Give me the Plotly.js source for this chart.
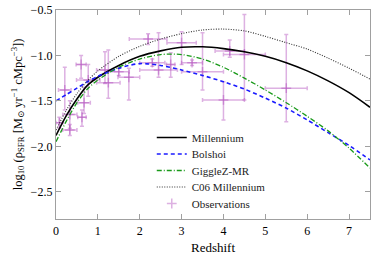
<!DOCTYPE html>
<html><head><meta charset="utf-8">
<script src="https://cdn.plot.ly/plotly-3.0.1.min.js"></script>
<style>html,body{margin:0;padding:0;background:#fff}#c{width:374px;height:255px}</style>
</head><body><div id="c"></div>
<script>
// Model curves
const z = [0, 0.25, 0.5, 0.75, 1, 1.5, 2, 2.5, 3, 3.5, 4, 4.5, 5, 5.5, 6, 6.5, 7, 7.5];
const millennium = [-1.88, -1.66, -1.48, -1.33, -1.24, -1.11, -1.01, -0.95, -0.91, -0.905, -0.925, -0.96, -1.01, -1.08, -1.17, -1.28, -1.41, -1.57];
const bolshoi = [-1.50, -1.43, -1.36, -1.29, -1.23, -1.14, -1.09, -1.11, -1.16, -1.22, -1.29, -1.37, -1.47, -1.58, -1.71, -1.85, -1.99, -2.15];
const gigglez = [-1.95, -1.72, -1.52, -1.37, -1.27, -1.13, -1.04, -0.99, -0.99, -1.04, -1.13, -1.25, -1.38, -1.52, -1.67, -1.83, -2.02, -2.24];
const c06 = [-1.82, -1.60, -1.42, -1.28, -1.17, -1.01, -0.90, -0.82, -0.76, -0.72, -0.71, -0.73, -0.79, -0.86, -0.93, -1.03, -1.14, -1.26];

// Observations
const obsZ     = [0.33, 0.08, 0.62, 0.21, 0.60, 0.77, 0.67, 0.33, 1.25, 1.17, 1.74, 1.50, 2.20, 2.45, 3.00, 3.50, 4.00, 4.15, 3.25, 4.50, 5.50, 2.30, 2.74];
const obsY     = [-1.82, -1.74, -1.68, -1.38, -1.10, -1.27, -1.52, -1.65, -1.30, -1.16, -1.24, -1.18, -0.82, -1.16, -0.86, -1.18, -1.49, -0.95, -1.08, -0.99, -1.36, -1.08, -1.10];
const obsZerr  = [0.17, 0.08, 0.10, 0.15, 0.12, 0.28, 0.15, 0.17, 0.28, 0.20, 0.26, 0.25, 0.45, 0.45, 0.35, 0.50, 0.50, 0.35, 0.25, 0.50, 0.50, 0.30, 0.10];
const obsYplus = [0.06, 0.06, 0.08, 0.25, 0.10, 0.17, 0.17, 0.15, 0.36, 0.20, 0.10, 0.04, 0.06, 0.41, 0.12, 0.43, 0.20, 0.12, 0.03, 0.44, 0.59, 0.04, 0.13];
const obsYminus= [0.06, 0.06, 0.10, 0.22, 0.15, 0.18, 0.12, 0.15, 0.17, 0.15, 0.25, 0.04, 0.06, 0.08, 0.24, 0.20, 0.22, 0.07, 0.03, 0.50, 0.37, 0.04, 0.14];

const names = ["Millennium", "Bolshoi", "GiggleZ-MR", "C06 Millennium", "Observations"];
const obsColor = "rgba(175,70,185,0.42)";
const serif = "Liberation Serif, DejaVu Serif, serif";

const traces = [
  {x: obsZ, y: obsY, type: "scatter", mode: "markers", name: names[4], legend: "legend5",
   marker: {symbol: "cross-thin-open", size: 7, color: obsColor, line: {color: obsColor, width: 1.5}},
   error_x: {type: "data", array: obsZerr, color: obsColor, thickness: 1.5, width: 2},
   error_y: {type: "data", symmetric: false, array: obsYplus, arrayminus: obsYminus, color: obsColor, thickness: 1.5, width: 2}},
  {x: z, y: millennium, name: names[0], legend: "legend", mode: "lines", line: {color: "black", width: 1.6, shape: "spline", smoothing: 0.8}},
  {x: z, y: bolshoi, name: names[1], legend: "legend2", mode: "lines", line: {color: "#1a1aff", width: 1.6, dash: "4px,3px", shape: "spline", smoothing: 0.8}},
  {x: z, y: gigglez, name: names[2], legend: "legend3", mode: "lines", line: {color: "#1a9a1a", width: 1.3, dash: "5px,2px,1px,2px", shape: "spline", smoothing: 0.8}},
  {x: z, y: c06, name: names[3], legend: "legend4", mode: "lines", line: {color: "#333", width: 1.1, dash: "1px,1.5px", shape: "spline", smoothing: 0.8}}
];

const axisCommon = {
  showline: true, linecolor: "#a0a0a0", linewidth: 1.2, mirror: "allticks",
  ticks: "inside", ticklen: 5, tickcolor: "#a0a0a0", tickwidth: 1,
  showgrid: false, zeroline: false,
  tickfont: {family: serif, size: 12, color: "black"}
};

const legendCommon = {x: 0.305, xanchor: "left", yanchor: "top", bgcolor: "rgba(0,0,0,0)",
  font: {family: serif, size: 11, color: "#222"}, itemwidth: 30, tracegroupgap: 0};

const layout = {
  width: 374, height: 255,
  margin: {l: 56, r: 4, t: 10, b: 36},
  paper_bgcolor: "white", plot_bgcolor: "white",
  xaxis: Object.assign({}, axisCommon, {
    range: [0, 7.5], tickvals: [0, 1, 2, 3, 4, 5, 6, 7],
    title: {text: "Redshift", font: {family: serif, size: 13, color: "black"}, standoff: 7}
  }),
  yaxis: Object.assign({}, axisCommon, {
    range: [-2.8, -0.5], tickvals: [-2.5, -2.0, -1.5, -1.0, -0.5], tickformat: ".1f",
    title: {text: "log<sub>10</sub> (ρ<sub>SFR</sub> [M<sub>⊙</sub> yr<sup>−1</sup> cMpc<sup>−3</sup>])",
            font: {family: serif, size: 12.5, color: "black"}, standoff: 5}
  }),
  legend: Object.assign({y: 0.4593}, legendCommon),
  legend2: Object.assign({y: 0.3804}, legendCommon),
  legend3: Object.assign({y: 0.3014}, legendCommon),
  legend4: Object.assign({y: 0.2225}, legendCommon),
  legend5: Object.assign({y: 0.1435}, legendCommon),
  showlegend: true
};

Plotly.newPlot("c", traces, layout, {displayModeBar: false, staticPlot: true});
</script>
</body></html>
